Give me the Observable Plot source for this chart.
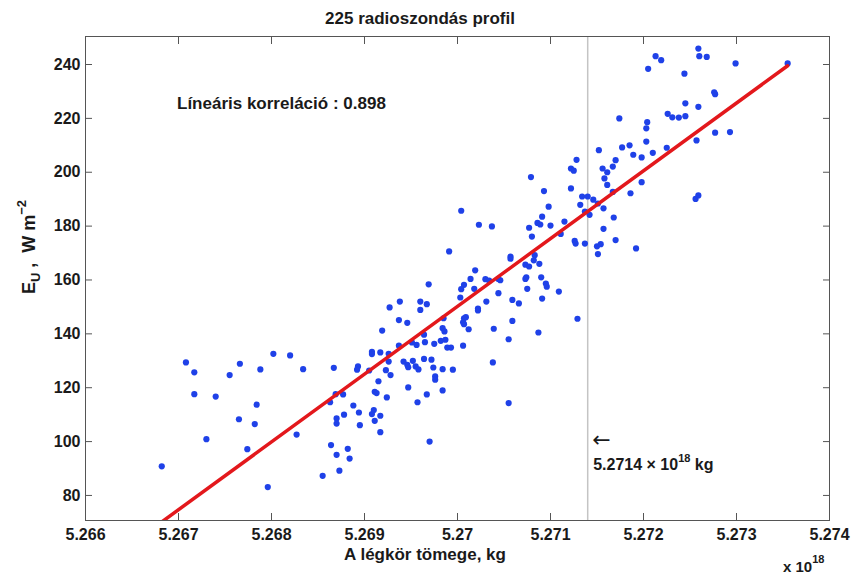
<!DOCTYPE html>
<html>
<head>
<meta charset="utf-8">
<script src="https://cdn.jsdelivr.net/npm/d3@7"></script>
<script src="https://cdn.jsdelivr.net/npm/@observablehq/plot@0.6"></script>
<style>
  html, body { margin: 0; padding: 0; background: #ffffff; }
  #chart svg { display: block; }
</style>
</head>
<body>
<div id="chart"></div>
<script>
// ---- data (x in units of 10^18 kg, y in W m^-2) ----
const massX = [
  5.26708,5.26717,5.26766,5.26802,5.26820,5.26755,5.26788,5.26717,5.26740,5.26784,
  5.26765,5.26782,5.26730,5.26827,5.26774,5.26682,5.26796,5.26855,5.26873,
  5.26969,5.26960,5.26967,5.26938,5.26927,5.26960,5.26937,5.26946,5.26919,5.26964,
  5.26965,5.26982,5.26975,5.26956,5.26951,5.26937,5.26908,5.26908,5.26917,5.26926,
  5.26834,5.26867,5.26893,5.26892,5.26926,5.26942,5.26946,5.26947,5.26952,5.26955,
  5.26958,5.26964,5.26972,5.26974,5.26905,5.26923,5.26928,5.26915,5.26976,5.26976,
  5.26911,5.26913,5.26947,5.26924,5.26967,5.26957,5.26869,5.26877,5.26863,5.26888,
  5.26894,5.26910,5.26908,5.26917,5.26878,5.26870,5.26870,5.26911,5.26895,5.26917,
  5.26864,5.26870,5.26882,5.26884,5.26970,
  5.27079,5.27093,5.27004,5.27098,5.27091,5.27023,5.27037,5.27086,5.27089,5.27100,
  5.27077,5.27111,5.27080,5.27126,5.27127,5.27151,5.26991,5.27083,5.27057,5.27057,
  5.27073,5.27077,5.27082,5.27088,5.27019,5.27014,5.27007,5.27004,5.27030,5.27034,
  5.27044,5.27046,5.27074,5.27073,5.27090,5.27095,5.27096,5.27018,5.27003,5.27044,
  5.27075,5.27109,5.27031,5.27022,5.27022,5.27059,5.27066,5.27091,5.26985,5.26984,
  5.26986,5.27007,5.27009,5.27006,5.27007,5.27012,5.27039,5.27059,5.27129,5.27087,
  5.27055,5.27006,5.26989,5.26993,5.26987,5.27038,5.26984,5.26995,5.26984,5.27055,
  5.27259,5.27213,5.27219,5.27260,5.27268,5.27205,5.27299,5.27355,5.27244,5.27276,
  5.27277,5.27245,5.27259,5.27174,5.27204,5.27203,5.27226,5.27231,5.27238,5.27245,
  5.27277,5.27293,5.27203,5.27257,5.27152,5.27177,5.27185,5.27189,5.27198,5.27210,
  5.27225,5.27128,5.27122,5.27125,5.27156,5.27161,5.27158,5.27161,5.27167,5.27170,
  5.27122,5.27198,5.27186,5.27167,5.27134,5.27140,5.27146,5.27132,5.27151,5.27157,
  5.27137,5.27142,5.27168,5.27115,5.27157,5.27256,5.27259,5.27137,5.27150,5.27154,
  5.27170,5.27192
];
const fluxY = [
  129.4,125.7,128.9,132.6,132.0,124.7,126.8,117.6,116.7,113.7,
  108.3,106.5,100.9,102.6,97.2,90.8,83.1,87.3,89.2,
  158.4,152.0,151.0,152.0,149.8,148.9,145.1,144.1,141.2,139.7,
  136.9,137.4,136.3,135.9,136.8,135.6,133.3,132.5,133.1,132.6,
  126.9,127.4,127.9,126.7,129.7,129.7,128.5,127.6,130.0,127.9,
  126.8,130.7,130.4,127.5,126.4,126.5,124.7,122.4,124.2,123.0,
  118.5,118.0,120.1,116.4,117.5,114.6,117.6,117.5,114.6,113.4,
  110.8,111.7,110.2,109.6,110.0,108.6,106.7,107.7,106.1,103.5,
  98.7,95.1,97.3,93.7,100.0,
  198.2,193.0,185.7,187.2,183.5,180.5,179.9,181.2,180.6,180.2,
  179.4,177.1,176.1,174.5,173.5,169.6,170.6,169.2,168.7,167.9,
  165.7,165.0,167.3,166.0,163.6,160.4,158.2,156.6,160.3,159.8,
  160.4,159.9,161.0,160.4,161.0,158.7,157.5,156.7,153.5,155.1,
  156.7,155.7,152.0,149.4,148.7,152.6,151.3,153.1,145.8,142.1,
  140.9,145.8,146.2,144.3,143.6,141.7,141.9,144.8,145.6,140.5,
  138.0,135.6,134.9,134.9,137.8,129.4,126.9,126.7,119.0,114.3,
  245.9,243.1,241.6,243.1,242.8,238.4,240.4,240.4,236.6,229.7,
  229.0,225.6,224.3,220.0,218.6,216.3,221.7,220.4,220.3,220.8,
  214.7,214.9,211.4,211.8,208.2,209.2,210.0,206.5,205.5,207.2,
  209.1,204.6,201.4,200.6,201.4,200.0,197.7,195.3,202.1,204.5,
  194.0,196.3,192.2,192.7,191.0,191.0,189.8,187.9,188.4,186.6,
  185.4,184.2,183.2,181.7,179.0,190.1,191.4,173.5,172.5,173.3,
  174.8,171.7
];
const xTicks = [5.266, 5.267, 5.268, 5.269, 5.27, 5.271, 5.272, 5.273, 5.274];
const xTickLabels = ["5.266", "5.267", "5.268", "5.269", "5.27", "5.271", "5.272", "5.273", "5.274"];
const yTicks = [80, 100, 120, 140, 160, 180, 200, 220, 240];
const markerMass = [5.2714];
const titleText = "225 radioszondás profil";
const corrText = "Líneáris korreláció : 0.898";
const xLabelText = "A légkör tömege, kg";

// ---- build ----
const points = massX.map((m, i) => ({mass: m, flux: fluxY[i]}));
const FONT = "'Liberation Sans', Arial, Helvetica, sans-serif";
const axisColor = "#555555";

const plot = Plot.plot({
  width: 852,
  height: 574,
  marginTop: 36,
  marginRight: 23,
  marginBottom: 54,
  marginLeft: 85,
  style: {fontFamily: FONT, fontSize: "16px", fontWeight: "bold", color: "#1a1a1a", background: "#ffffff", overflow: "visible"},
  x: {domain: [5.266, 5.274]},
  y: {domain: [70.7, 250.4]},
  marks: [
    Plot.ruleX(markerMass, {stroke: "#c4c4c4", strokeWidth: 1.5}),
    Plot.dot(points, {x: "mass", y: "flux", r: 3.1, fill: "#1f41e8", stroke: "none"}),
    Plot.linearRegressionY(points, {x: "mass", y: "flux", stroke: "#e3181c", strokeWidth: 3.5, ci: 0, clip: true}),
    Plot.frame({stroke: axisColor, strokeWidth: 1}),
    Plot.axisX(xTicks, {tickSize: 0, tickPadding: 8, fontSize: 16, tickFormat: d => xTickLabels[xTicks.indexOf(d)], label: null}),
    Plot.axisX(xTicks, {tickSize: -7, stroke: axisColor, tickFormat: () => "", label: null}),
    Plot.axisX(xTicks, {anchor: "top", tickSize: -7, stroke: axisColor, tickFormat: () => "", label: null}),
    Plot.axisY(yTicks, {tickSize: 0, tickPadding: 5, fontSize: 16, label: null}),
    Plot.axisY(yTicks, {tickSize: -7, stroke: axisColor, tickFormat: () => "", label: null}),
    Plot.axisY(yTicks, {anchor: "right", tickSize: -7, stroke: axisColor, tickFormat: () => "", label: null})
  ]
});

document.getElementById("chart").appendChild(plot);

// ---- text annotations ----
const svg = d3.select(plot);
const sx = plot.scale("x");
const g = svg.append("g")
  .attr("font-family", FONT)
  .attr("font-weight", "bold")
  .attr("fill", "#1a1a1a")
  .attr("text-anchor", "start");

// title
g.append("text").attr("x", 420).attr("y", 24).attr("text-anchor", "middle")
  .attr("font-size", 17).text(titleText);

// correlation
g.append("text").attr("x", 177).attr("y", 109).attr("font-size", 17).text(corrText);

// marker annotation
const mx = sx.apply(markerMass[0]);
g.append("text").attr("x", mx + 5).attr("y", 447).attr("font-size", 22)
  .attr("font-weight", "normal").attr("font-family", "'DejaVu Sans', sans-serif").text("←");
const ml = g.append("text").attr("x", mx + 6).attr("y", 470).attr("font-size", 16);
ml.append("tspan").text("5.2714 × 10");
ml.append("tspan").attr("font-size", 11).attr("dy", -8).text("18");
ml.append("tspan").attr("dy", 8).text(" kg");

// x label
g.append("text").attr("x", 425).attr("y", 560).attr("text-anchor", "middle")
  .attr("font-size", 17).text(xLabelText);

// exponent
const ex = g.append("text").attr("x", 783).attr("y", 572).attr("font-size", 15);
ex.append("tspan").text("x 10");
ex.append("tspan").attr("font-size", 11).attr("dy", -9).text("18");

// y label
const yl = g.append("text").attr("transform", "translate(35,247) rotate(-90)")
  .attr("text-anchor", "middle").attr("font-size", 18);
yl.append("tspan").text("E");
yl.append("tspan").attr("font-size", 13).attr("dy", 5).text("U");
yl.append("tspan").attr("dy", -5).text(" ,  W m");
yl.append("tspan").attr("font-size", 13).attr("dy", -9).text("−2");
</script>
</body>
</html>
